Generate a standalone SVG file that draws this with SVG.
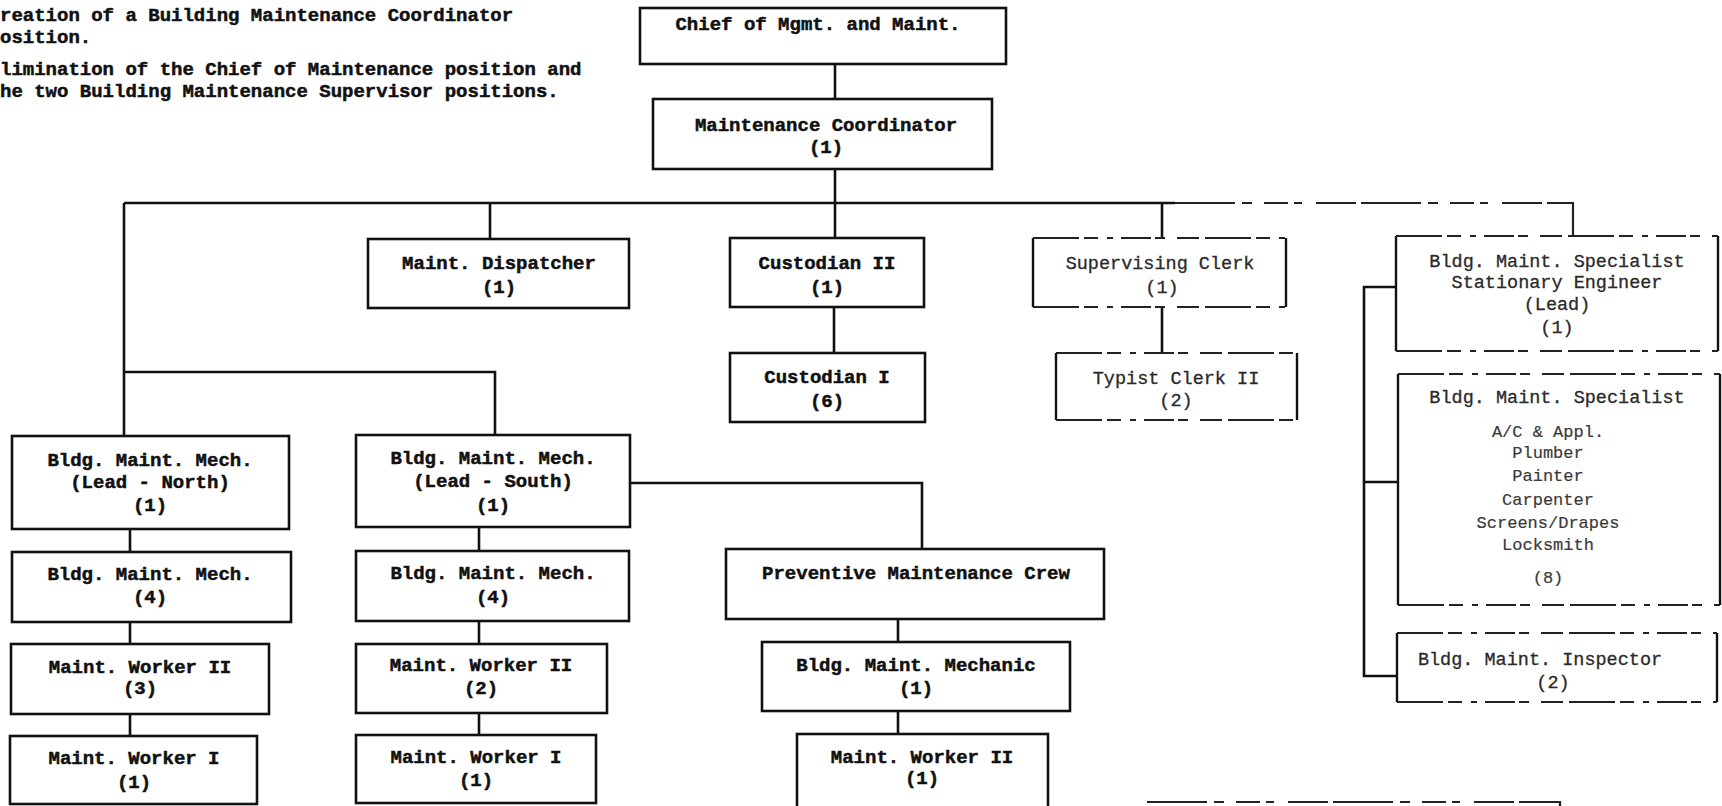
<svg xmlns="http://www.w3.org/2000/svg" width="1722" height="806" viewBox="0 0 1722 806">
  <style>
    .bg { fill: #ffffff; }
    .box { fill: #ffffff; stroke: #111; stroke-width: 2.6; }
    .wire { fill: none; stroke: #111; stroke-width: 2.6; }
    .side { stroke: #111; stroke-width: 2.4; }
    .worn { stroke: #222; stroke-width: 2.2; stroke-dasharray: 46 5 14 9 6 8 30 4 10 12 22 6; }
    .wornwire { fill: none; stroke: #222; stroke-width: 2.2; stroke-dasharray: 60 7 10 12 24 6 8 14 40 5; }
    .t { font-family: "Liberation Mono", "Courier New", monospace; font-size: 19px; font-weight: bold; fill: #111; stroke: #111; stroke-width: 0.5; text-anchor: middle; }
    .note { font-family: "Liberation Mono", "Courier New", monospace; font-size: 19px; font-weight: bold; fill: #111; stroke: #111; stroke-width: 0.5; }
    .lt { font-family: "Liberation Mono", "Courier New", monospace; font-size: 18.5px; fill: #2a2a2a; stroke: #2a2a2a; stroke-width: 0.3; text-anchor: middle; }
    .lts { font-family: "Liberation Mono", "Courier New", monospace; font-size: 17px; fill: #3a3a3a; stroke: #3a3a3a; stroke-width: 0.2; text-anchor: middle; }
  </style>

  <rect class="bg" x="0" y="0" width="1722" height="806"/>

  <!-- notes at top left -->
  <g id="notes">
    <text class="note" x="0" y="21">reation of a Building Maintenance Coordinator</text>
    <text class="note" x="0" y="43">osition.</text>
    <text class="note" x="0" y="75">limination of the Chief of Maintenance position and</text>
    <text class="note" x="0" y="97">he two Building Maintenance Supervisor positions.</text>
  </g>

  <!-- reporting lines -->
  <g id="connectors">
    <path class="wire" d="M835,64 V238"/>
    <path class="wire" d="M124,203 H1175"/>
    <path class="wornwire" d="M1175,203 H1573 V236"/>
    <path class="wire" d="M490,203 V239"/>
    <path class="wire" d="M1162,203 V238"/>
    <path class="wire" d="M124,203 V436"/>
    <path class="wire" d="M124,372 H495 V435"/>
    <path class="wire" d="M834,307 V353"/>
    <path class="wire" d="M1162,307 V353"/>
    <path class="wire" d="M130,529 V552 M130,622 V644 M130,714 V736"/>
    <path class="wire" d="M479,527 V551 M479,621 V644 M479,713 V735"/>
    <path class="wire" d="M630,483 H922 V549"/>
    <path class="wire" d="M898,619 V642 M898,711 V734"/>
    <path class="wire" d="M1396,287 H1364 V676 H1397"/>
    <path class="wire" d="M1364,482 H1398"/>
    <path class="wornwire" d="M1147,802 H1560 V806"/>
  </g>

  <g id="chief">
    <rect class="box" x="640" y="8" width="366" height="56"/>
    <text class="t" x="818" y="30">Chief of Mgmt. and Maint.</text>
  </g>

  <g id="coordinator">
    <rect class="box" x="653" y="99" width="339" height="70"/>
    <text class="t" x="826" y="131">Maintenance Coordinator</text>
    <text class="t" x="826" y="153">(1)</text>
  </g>

  <g id="dispatcher">
    <rect class="box" x="368" y="239" width="261" height="69"/>
    <text class="t" x="499" y="269">Maint. Dispatcher</text>
    <text class="t" x="499" y="293">(1)</text>
  </g>

  <g id="custodian-2">
    <rect class="box" x="730" y="238" width="194" height="69"/>
    <text class="t" x="827" y="269">Custodian II</text>
    <text class="t" x="827" y="293">(1)</text>
  </g>

  <g id="custodian-1">
    <rect class="box" x="730" y="353" width="195" height="69"/>
    <text class="t" x="827" y="383">Custodian I</text>
    <text class="t" x="827" y="407">(6)</text>
  </g>

  <g id="supervising-clerk">
    <line class="side" x1="1033" y1="238" x2="1033" y2="307"/>
    <line class="side" x1="1286" y1="238" x2="1286" y2="307"/>
    <line class="worn" x1="1033" y1="238" x2="1286" y2="238"/>
    <line class="worn" x1="1033" y1="307" x2="1286" y2="307"/>
    <text class="lt" x="1160" y="269">Supervising Clerk</text>
    <text class="lt" x="1162" y="293">(1)</text>
  </g>

  <g id="typist-clerk">
    <line class="side" x1="1056" y1="353" x2="1056" y2="420"/>
    <line class="side" x1="1297" y1="353" x2="1297" y2="420"/>
    <line class="worn" x1="1056" y1="353" x2="1297" y2="353"/>
    <line class="worn" x1="1056" y1="420" x2="1297" y2="420"/>
    <text class="lt" x="1176" y="384">Typist Clerk II</text>
    <text class="lt" x="1176" y="406">(2)</text>
  </g>

  <g id="specialist-lead">
    <line class="side" x1="1396" y1="236" x2="1396" y2="351"/>
    <line class="side" x1="1718" y1="236" x2="1718" y2="351"/>
    <line class="worn" x1="1396" y1="236" x2="1718" y2="236"/>
    <line class="worn" x1="1396" y1="351" x2="1718" y2="351"/>
    <text class="lt" x="1557" y="267">Bldg. Maint. Specialist</text>
    <text class="lt" x="1557" y="288">Stationary Engineer</text>
    <text class="lt" x="1557" y="310">(Lead)</text>
    <text class="lt" x="1557" y="333">(1)</text>
  </g>

  <g id="specialist-trades">
    <line class="side" x1="1398" y1="374" x2="1398" y2="605"/>
    <line class="side" x1="1720" y1="374" x2="1720" y2="605"/>
    <line class="worn" x1="1398" y1="374" x2="1720" y2="374"/>
    <line class="worn" x1="1398" y1="605" x2="1720" y2="605"/>
    <text class="lt" x="1557" y="403">Bldg. Maint. Specialist</text>
    <text class="lts" x="1548" y="437">A/C &amp; Appl.</text>
    <text class="lts" x="1548" y="458">Plumber</text>
    <text class="lts" x="1548" y="481">Painter</text>
    <text class="lts" x="1548" y="505">Carpenter</text>
    <text class="lts" x="1548" y="528">Screens/Drapes</text>
    <text class="lts" x="1548" y="550">Locksmith</text>
    <text class="lts" x="1548" y="583">(8)</text>
  </g>

  <g id="inspector">
    <line class="side" x1="1397" y1="633" x2="1397" y2="702"/>
    <line class="side" x1="1717" y1="633" x2="1717" y2="702"/>
    <line class="worn" x1="1397" y1="633" x2="1717" y2="633"/>
    <line class="worn" x1="1397" y1="702" x2="1717" y2="702"/>
    <text class="lt" x="1540" y="665">Bldg. Maint. Inspector</text>
    <text class="lt" x="1553" y="688">(2)</text>
  </g>

  <g id="mech-lead-north">
    <rect class="box" x="12" y="436" width="277" height="93"/>
    <text class="t" x="150" y="466">Bldg. Maint. Mech.</text>
    <text class="t" x="150" y="488">(Lead - North)</text>
    <text class="t" x="150" y="511">(1)</text>
  </g>

  <g id="mech-north">
    <rect class="box" x="12" y="552" width="279" height="70"/>
    <text class="t" x="150" y="580">Bldg. Maint. Mech.</text>
    <text class="t" x="150" y="603">(4)</text>
  </g>

  <g id="worker2-north">
    <rect class="box" x="11" y="644" width="258" height="70"/>
    <text class="t" x="140" y="673">Maint. Worker II</text>
    <text class="t" x="140" y="694">(3)</text>
  </g>

  <g id="worker1-north">
    <rect class="box" x="10" y="736" width="247" height="68"/>
    <text class="t" x="134" y="764">Maint. Worker I</text>
    <text class="t" x="134" y="788">(1)</text>
  </g>

  <g id="mech-lead-south">
    <rect class="box" x="356" y="435" width="274" height="92"/>
    <text class="t" x="493" y="464">Bldg. Maint. Mech.</text>
    <text class="t" x="493" y="487">(Lead - South)</text>
    <text class="t" x="493" y="511">(1)</text>
  </g>

  <g id="mech-south">
    <rect class="box" x="356" y="551" width="273" height="70"/>
    <text class="t" x="493" y="579">Bldg. Maint. Mech.</text>
    <text class="t" x="493" y="603">(4)</text>
  </g>

  <g id="worker2-south">
    <rect class="box" x="356" y="644" width="251" height="69"/>
    <text class="t" x="481" y="671">Maint. Worker II</text>
    <text class="t" x="481" y="694">(2)</text>
  </g>

  <g id="worker1-south">
    <rect class="box" x="356" y="735" width="240" height="68"/>
    <text class="t" x="476" y="763">Maint. Worker I</text>
    <text class="t" x="476" y="786">(1)</text>
  </g>

  <g id="pm-crew">
    <rect class="box" x="726" y="549" width="378" height="70"/>
    <text class="t" x="916" y="579">Preventive Maintenance Crew</text>
  </g>

  <g id="pm-mechanic">
    <rect class="box" x="762" y="642" width="308" height="69"/>
    <text class="t" x="916" y="671">Bldg. Maint. Mechanic</text>
    <text class="t" x="916" y="694">(1)</text>
  </g>

  <g id="pm-worker2">
    <rect class="box" x="797" y="734" width="251" height="74"/>
    <text class="t" x="922" y="763">Maint. Worker II</text>
    <text class="t" x="922" y="784">(1)</text>
  </g>
</svg>
